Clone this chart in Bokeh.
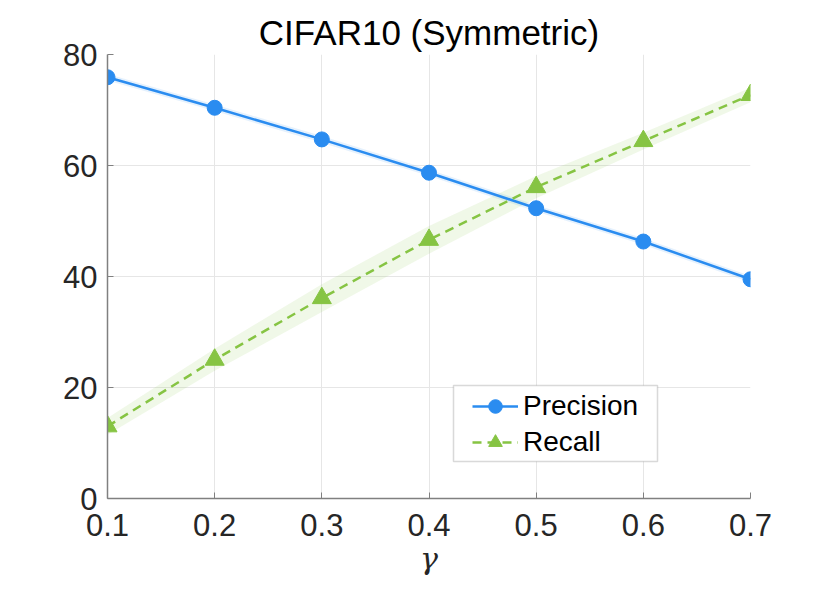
from bokeh.plotting import figure
from bokeh.models import FixedTicker, Legend, LegendItem, Range1d, BoxAnnotation
from bokeh.embed import file_html
from bokeh.resources import INLINE

# ---- data ----
gamma = [0.1, 0.2, 0.3, 0.4, 0.5, 0.6, 0.7]
precision = [75.9, 70.4, 64.7, 58.7, 52.3, 46.3, 39.5]
recall = [13.0, 25.0, 36.1, 46.6, 56.1, 64.4, 72.7]
precision_spread = [0.6, 0.6, 0.6, 0.6, 0.6, 0.6, 0.6]
recall_spread = [1.5, 2.0, 2.5, 2.5, 2.0, 1.5, 1.3]
x_ticks = [0.1, 0.2, 0.3, 0.4, 0.5, 0.6, 0.7]
y_ticks = [0, 20, 40, 60, 80]
title_text = "CIFAR10 (Symmetric)"
x_label = "γ"
series_names = ["Precision", "Recall"]

BLUE = "#2a8cf0"
GREEN = "#86c443"
FONT = "Liberation Sans"

p = figure(width=814, height=578, output_backend="svg", toolbar_location=None,
           x_range=Range1d(0.1, 0.7), y_range=Range1d(0, 80),
           min_border_left=107, min_border_right=64, min_border_top=54, min_border_bottom=79,
           title=title_text)
p.outline_line_color = None
p.background_fill_color = "white"
p.border_fill_color = "white"

p.title.align = "center"
p.title.text_font = FONT
p.title.text_font_size = "35px"
p.title.text_font_style = "normal"
p.title.text_color = "#000000"
p.title.standoff = 6

for ax in (p.xaxis[0], p.yaxis[0]):
    ax.axis_line_color = "#808080"
    ax.axis_line_width = 1.5
    ax.major_tick_line_color = "#808080"
    ax.major_tick_in = 6
    ax.major_tick_out = 0
    ax.minor_tick_line_color = None
    ax.major_label_text_font = FONT
    ax.major_label_text_font_size = "31px"
    ax.major_label_text_color = "#262626"
p.yaxis.major_label_standoff = 10
p.xaxis.major_label_standoff = 15

p.xaxis.ticker = FixedTicker(ticks=x_ticks)
p.yaxis.ticker = FixedTicker(ticks=y_ticks)
p.xaxis.axis_label = x_label
p.xaxis.axis_label_text_font = "DejaVu Serif"
p.xaxis.axis_label_text_font_style = "italic"
p.xaxis.axis_label_text_font_size = "30px"
p.xaxis.axis_label_text_color = "#262626"
p.xaxis.axis_label_standoff = 2

p.xgrid.ticker = FixedTicker(ticks=x_ticks)
p.ygrid.ticker = FixedTicker(ticks=y_ticks)
p.grid.grid_line_color = "#e6e6e6"
p.grid.grid_line_width = 1

# shaded bands
p_lo = [v - s for v, s in zip(precision, precision_spread)]
p_hi = [v + s for v, s in zip(precision, precision_spread)]
r_lo = [v - s for v, s in zip(recall, recall_spread)]
r_hi = [v + s for v, s in zip(recall, recall_spread)]
p.varea(x=gamma, y1=p_lo, y2=p_hi, fill_color=BLUE, fill_alpha=0.12)
p.varea(x=gamma, y1=r_lo, y2=r_hi, fill_color=GREEN, fill_alpha=0.12)

l1 = p.line(gamma, precision, line_color=BLUE, line_width=2.5)
s1 = p.scatter(gamma, precision, marker="circle", size=15, fill_color=BLUE, line_color=BLUE)
l2 = p.line(gamma, recall, line_color=GREEN, line_width=2.5, line_dash="9 6")
s2 = p.scatter(gamma, recall, marker="triangle", size=19, fill_color=GREEN, line_color=GREEN)

# legend frame (screen units, relative to the plot frame)
box = BoxAnnotation(left=346, right=550, top=113, bottom=37,
                    left_units="screen", right_units="screen",
                    top_units="screen", bottom_units="screen",
                    fill_color="white", fill_alpha=1.0,
                    line_color="#808080", line_width=1.5)
p.add_layout(box)

legend = Legend(items=[LegendItem(label=series_names[0], renderers=[l1, s1]),
                       LegendItem(label=series_names[1], renderers=[l2, s2])],
                location=(365, 39))
legend.label_text_font = FONT
legend.label_text_font_size = "28px"
legend.label_text_color = "#000000"
legend.glyph_width = 46
legend.glyph_height = 34
legend.label_height = 34
legend.spacing = 2
legend.padding = 0
legend.margin = 0
legend.label_standoff = 5
legend.border_line_color = None
legend.background_fill_alpha = 0.0
p.add_layout(legend, "center")

open("out.html", "w").write(file_html(p, INLINE))
